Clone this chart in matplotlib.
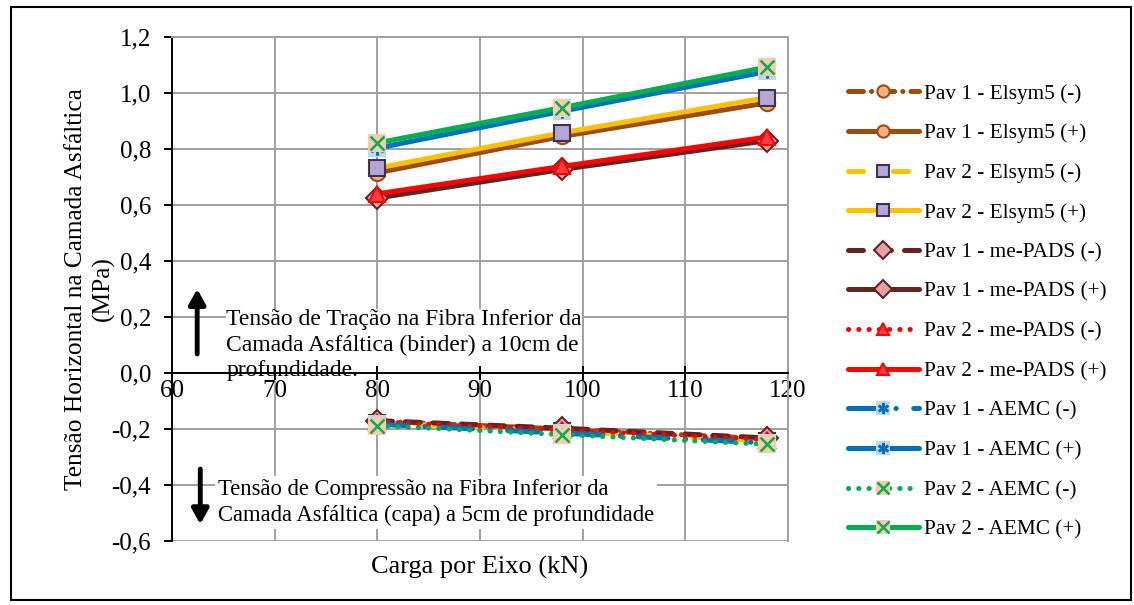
import matplotlib.pyplot as plt
import numpy as np
from matplotlib.patches import Rectangle
from matplotlib.legend_handler import HandlerTuple

plt.rcParams['font.family'] = ['Liberation Serif', 'DejaVu Serif']

# axle load (kN)
carga = [80, 98, 118]

# horizontal stress (MPa) - (+) tension at binder bottom, (-) compression at capa bottom
pav1_elsym_neg = [-0.172, -0.200, -0.235]
pav1_elsym_pos = [0.715, 0.845, 0.965]
pav2_elsym_neg = [-0.178, -0.207, -0.243]
pav2_elsym_pos = [0.732, 0.858, 0.984]
pav1_pads_neg = [-0.170, -0.197, -0.232]
pav1_pads_pos = [0.625, 0.727, 0.830]
pav2_pads_neg = [-0.175, -0.203, -0.238]
pav2_pads_pos = [0.640, 0.738, 0.843]
pav1_aemc_neg = [-0.183, -0.215, -0.250]
pav1_aemc_pos = [0.803, 0.935, 1.077]
pav2_aemc_neg = [-0.188, -0.220, -0.255]
pav2_aemc_pos = [0.822, 0.948, 1.093]

xticks = np.arange(60, 121, 10)
yticks = np.arange(-0.6, 1.21, 0.2)

fig = plt.figure(figsize=(11.34, 6.05), dpi=100)
ax = fig.add_axes([0.1517, 0.1058, 0.5432, 0.833])

lw = 3.6
ms = 11
handles = []
labels = []


def serie(y, label, color, ls, marker, mfc, mec, mark2=None, mark2_color=None):
    line, = ax.plot(carga, y, color=color, linestyle=ls, linewidth=lw,
                    marker=marker, markersize=ms, markerfacecolor=mfc,
                    markeredgecolor=mec, markeredgewidth=1.5,
                    dash_capstyle='round', solid_capstyle='round', zorder=2)
    h = line
    if mark2 is not None:
        top, = ax.plot(carga, y, linestyle='none', marker=mark2, markersize=ms - 1,
                       markeredgecolor=mark2_color, markerfacecolor=mark2_color,
                       markeredgewidth=1.8, zorder=2)
        h = (line, top)
    handles.append(h)
    labels.append(label)


brown = '#9E4B0E'
yellow = '#FFC000'
maroon = '#632523'
red = '#FF0000'
blue = '#0070C0'
green = '#00B050'

dot = (0, (0.05, 2.0))
serie(pav1_elsym_neg, 'Pav 1 - Elsym5 (-)', brown, (0, (3, 1.6, 0.05, 1.6)), 'o', '#F4B183', brown)
serie(pav1_elsym_pos, 'Pav 1 - Elsym5 (+)', brown, '-', 'o', '#F4B183', brown)
serie(pav2_elsym_neg, 'Pav 2 - Elsym5 (-)', yellow, (0, (3, 6)), 's', '#B4A7D6', '#3F3151')
serie(pav2_elsym_pos, 'Pav 2 - Elsym5 (+)', yellow, '-', 's', '#B4A7D6', '#3F3151')
serie(pav1_pads_neg, 'Pav 1 - me-PADS (-)', maroon, (0, (3, 2.6)), 'D', '#E6A0A0', maroon)
serie(pav1_pads_pos, 'Pav 1 - me-PADS (+)', maroon, '-', 'D', '#E6A0A0', maroon)
serie(pav2_pads_neg, 'Pav 2 - me-PADS (-)', red, dot, '^', '#FF4040', red)
serie(pav2_pads_pos, 'Pav 2 - me-PADS (+)', red, '-', '^', '#FF4040', red)
serie(pav1_aemc_neg, 'Pav 1 - AEMC (-)', blue, (0, (6, 3.5, 0.05, 3.5)), 's', '#BDD7EE', '#BDD7EE',
      mark2=(6, 2, 0), mark2_color=blue)
serie(pav1_aemc_pos, 'Pav 1 - AEMC (+)', blue, '-', 's', '#BDD7EE', '#BDD7EE',
      mark2=(6, 2, 0), mark2_color=blue)
serie(pav2_aemc_neg, 'Pav 2 - AEMC (-)', green, dot, 's', '#F8CBAD', '#F8CBAD',
      mark2='x', mark2_color=green)
serie(pav2_aemc_pos, 'Pav 2 - AEMC (+)', green, '-', 's', '#F8CBAD', '#F8CBAD',
      mark2='x', mark2_color=green)

# axes limits, ticks and grid (grid drawn underneath the note boxes)
ax.set_xlim(60, 120)
ax.set_ylim(-0.6, 1.2)
ax.set_xticks(xticks)
ax.set_yticks(yticks)
ax.set_yticklabels([f'{v:.1f}'.replace('.', ',').replace('-0,0', '0,0') for v in yticks])
for xv in xticks:
    ax.axvline(xv, color='#A0A0A0', linewidth=1.4, zorder=0.5)
for yv in yticks:
    ax.axhline(yv, color='#A0A0A0', linewidth=1.4, zorder=0.5)
for s in ['top', 'right']:
    ax.spines[s].set_color('#A0A0A0')
    ax.spines[s].set_linewidth(1.4)
ax.spines['left'].set_color('black')
ax.spines['left'].set_linewidth(1.4)
ax.spines['bottom'].set_position(('data', 0))
ax.spines['bottom'].set_color('black')
ax.spines['bottom'].set_linewidth(1.4)
ax.tick_params(axis='x', direction='inout', length=10, width=1.4, labelsize=18, pad=0)
ax.tick_params(axis='y', direction='out', length=6, width=1.4, labelsize=18, pad=9)

ax.set_ylabel('Tensão Horizontal na Camada Asfáltica\n(MPa)', fontsize=18.3, linespacing=1.3)
ax.yaxis.set_label_coords(-0.092, 0.5)
ax.set_xlabel('Carga por Eixo (kN)', fontsize=19)
ax.xaxis.set_label_coords(0.5, -0.03)

# stress direction notes
arrow = dict(arrowstyle='-|>,head_width=0.5,head_length=0.9', color='black', lw=3.5,
             shrinkA=0, shrinkB=0)
ax.annotate('', xy=(62.45, 0.30), xytext=(62.45, 0.068), arrowprops=arrow)
ax.text(65.3, 0.100, 'Tensão de Tração na Fibra Inferior da\nCamada Asfáltica (binder) a 10cm de\nprofundidade.',
        fontsize=17, va='center', ha='left', linespacing=1.3,
        bbox=dict(facecolor='white', edgecolor='none', pad=0), zorder=0.8)
ax.annotate('', xy=(62.75, -0.54), xytext=(62.75, -0.343), arrowprops=arrow)
ax.text(64.45, -0.462, 'Tensão de Compressão na Fibra Inferior da\nCamada Asfáltica (capa) a 5cm de profundidade',
        fontsize=16.3, va='center', ha='left', linespacing=1.3,
        bbox=dict(facecolor='white', edgecolor='none', pad=2), zorder=0.8)

ax.legend(handles, labels, loc='upper left', bbox_to_anchor=(1.067, 0.945), frameon=False,
          fontsize=15.3, handlelength=3.3, handletextpad=0.25, labelspacing=0.93,
          markerscale=0.8, handler_map={tuple: HandlerTuple(ndivide=1)})

fig.patches.append(Rectangle((0.0097, 0.0083), 0.988, 0.98, transform=fig.transFigure,
                             fill=False, edgecolor='black', linewidth=1.5))

plt.savefig('out.png', dpi=100)
